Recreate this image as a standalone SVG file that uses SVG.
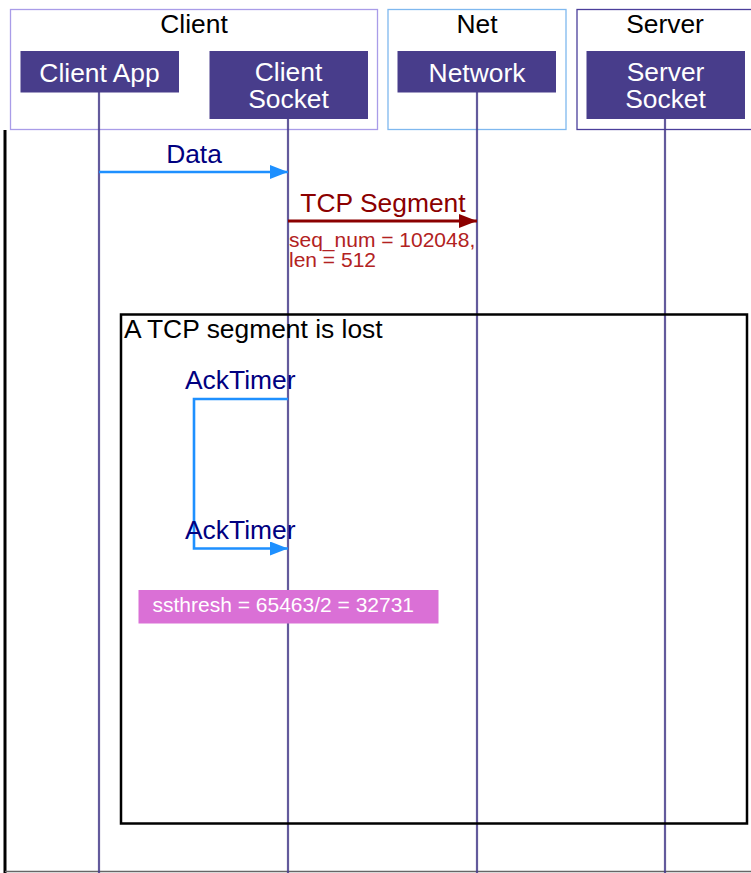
<svg xmlns="http://www.w3.org/2000/svg" width="751" height="873" viewBox="0 0 751 873">
<style>
text{font-family:"Liberation Sans",Arial,sans-serif}
.grp{fill:#fff;stroke-width:1.3}
.node{fill:#483d8b}
.nt{fill:#fff;font-size:26.4px;text-anchor:middle}
.gl{fill:#000;font-size:26.4px;text-anchor:middle}
.life{stroke:#483d8b;stroke-width:2.2;stroke-opacity:0.85;fill:none}
.lbl{fill:#000080;font-size:26.4px}
.note{fill:#b22222;font-size:21px}
</style>
<defs>
<marker id="ab" markerWidth="18" markerHeight="14" refX="18" refY="7" orient="auto" markerUnits="userSpaceOnUse"><path d="M0,0 L18,7 L0,14 Z" fill="#1e90ff"/></marker>
<marker id="ar" markerWidth="18" markerHeight="14" refX="18" refY="7" orient="auto" markerUnits="userSpaceOnUse"><path d="M0,0 L18,7 L0,14 Z" fill="#8b0000"/></marker>
</defs>
<rect width="751" height="873" fill="#fff"/>
<g id="group-client"><rect class="grp" x="10.5" y="9.5" width="367" height="120" stroke="#a99ce8"/><text class="gl" x="194" y="33">Client</text></g>
<g id="group-net"><rect class="grp" x="388" y="9.5" width="178" height="120" stroke="#7fb8ef"/><text class="gl" x="477" y="33">Net</text></g>
<g id="group-server"><rect class="grp" x="577" y="9.5" width="190" height="120" stroke="#4b3f9b"/><text class="gl" x="665" y="33">Server</text></g>
<line x1="5" y1="130" x2="5" y2="873" stroke="#000" stroke-width="3"/>
<line x1="5" y1="871.5" x2="751" y2="871.5" stroke="#666" stroke-width="1.5"/>
<g id="lifelines">
<line class="life" x1="99" y1="92" x2="99" y2="873"/>
<line class="life" x1="288" y1="118" x2="288" y2="873"/>
<line class="life" x1="477" y1="92" x2="477" y2="873"/>
<line class="life" x1="665" y1="118" x2="665" y2="873"/>
</g>
<g id="client-app"><rect class="node" x="20.5" y="51" width="158.5" height="41.5"/><text class="nt" x="99.5" y="81.5">Client App</text></g>
<g id="client-socket"><rect class="node" x="209.5" y="51" width="158.5" height="68"/><text class="nt" x="288.5" y="81">Client</text><text class="nt" x="288.5" y="107.5">Socket</text></g>
<g id="network"><rect class="node" x="397.5" y="51" width="158.5" height="41.5"/><text class="nt" x="477" y="81.5">Network</text></g>
<g id="server-socket"><rect class="node" x="586.5" y="51" width="158.5" height="68"/><text class="nt" x="665.5" y="81">Server</text><text class="nt" x="665.5" y="107.5">Socket</text></g>
<g id="fragment-lost"><rect x="121" y="314.5" width="626" height="509" fill="none" stroke="#000" stroke-width="2.5"/><text x="124" y="337.5" font-size="26.4" fill="#000">A TCP segment is lost</text></g>
<g id="connectors">
<line x1="99" y1="172" x2="288" y2="172" stroke="#1e90ff" stroke-width="2.6" marker-end="url(#ab)"/>
<text class="lbl" x="194" y="162.5" text-anchor="middle">Data</text>
<line x1="288" y1="221" x2="477" y2="221" stroke="#8b0000" stroke-width="2.8" marker-end="url(#ar)"/>
<text x="383" y="211.5" text-anchor="middle" font-size="26.4" fill="#8b0000">TCP Segment</text>
<text class="note" x="289" y="246.5">seq_num = 102048,</text>
<text class="note" x="289" y="266.5">len = 512</text>
<path d="M288,399 H194 V548.5 H288" fill="none" stroke="#1e90ff" stroke-width="2.6" marker-end="url(#ab)"/>
<text class="lbl" x="185" y="388.5">AckTimer</text>
<text class="lbl" x="185" y="538.5">AckTimer</text>
</g>
<g id="note-ssthresh"><rect x="138.5" y="590" width="300" height="33.5" fill="#da70d6"/><text x="152.5" y="611.5" font-size="21" fill="#fff">ssthresh = 65463/2 = 32731</text></g>
</svg>
